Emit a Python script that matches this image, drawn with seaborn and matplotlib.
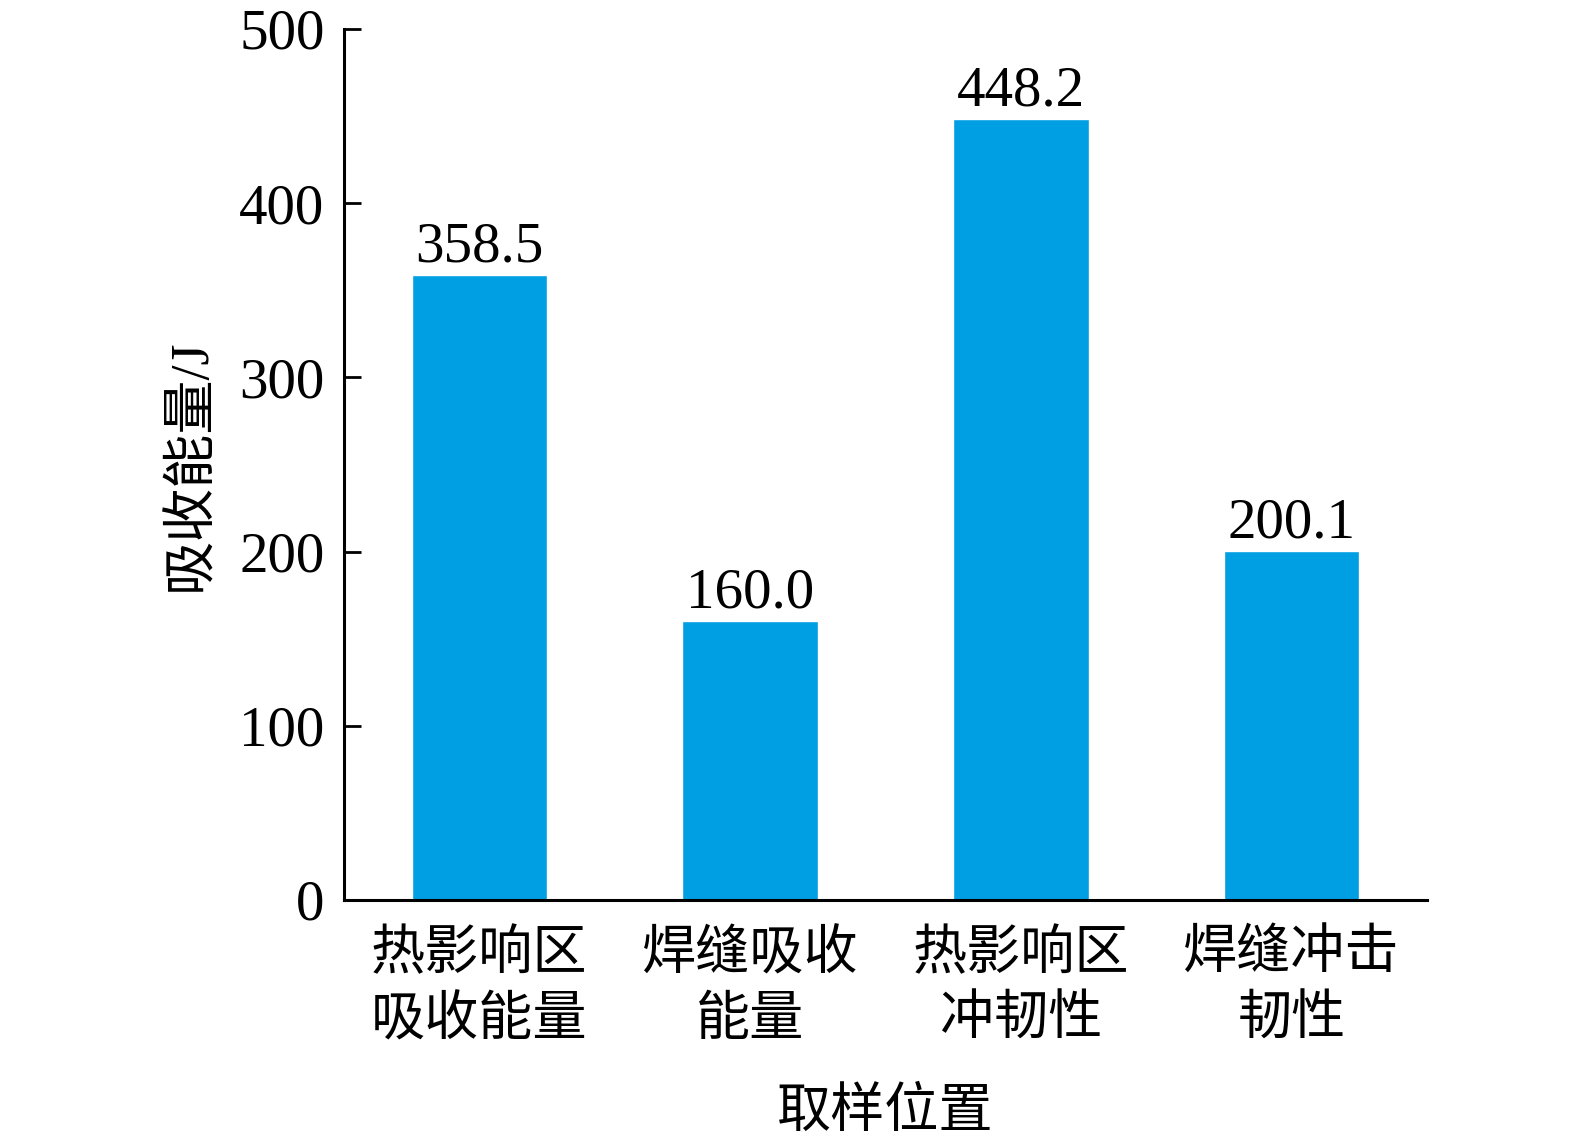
import matplotlib
matplotlib.use('Agg')
import matplotlib.pyplot as plt
import seaborn as sns
import pandas as pd

# 数据
categories = ['热影响区\n吸收能量', '焊缝吸收\n能量', '热影响区\n冲韧性', '焊缝冲击\n韧性']
values = [358.5, 160.0, 448.2, 200.1]
value_labels = ['358.5', '160.0', '448.2', '200.1']
yticks = [0, 100, 200, 300, 400, 500]

df = pd.DataFrame({'pos': categories, 'energy': values})

sns.set_style('white')
plt.rcParams['font.family'] = ['Liberation Serif', 'Noto Sans CJK SC']
plt.rcParams['text.color'] = 'black'
plt.rcParams['axes.labelcolor'] = 'black'
plt.rcParams['xtick.color'] = 'black'
plt.rcParams['ytick.color'] = 'black'

fig = plt.figure(figsize=(15.75, 11.44), dpi=100)
ax = fig.add_axes([0.2184, 0.2133, 0.6876, 0.7614])

sns.barplot(x='pos', y='energy', data=df, color='#009FE3', width=0.5,
            saturation=1, ax=ax)

for p, lab in zip(ax.patches, value_labels):
    ax.text(p.get_x() + p.get_width() / 2, p.get_height() + 1, lab,
            ha='center', va='bottom', fontsize=41, color='black')

ax.set_ylim(0, 500)
ax.set_xlim(-0.5, 3.5)
ax.set_yticks(yticks)
ax.tick_params(axis='y', left=True, direction='in', length=12, width=2,
               labelsize=41, pad=14)
ax.tick_params(axis='x', bottom=False, length=0, labelsize=39, pad=22)
for lbl in ax.get_xticklabels():
    lbl.set_linespacing(1.4)

sns.despine(ax=ax)
for s in ['left', 'bottom']:
    ax.spines[s].set_linewidth(2.2)
    ax.spines[s].set_color('black')

ax.set_xlabel('取样位置', fontsize=39, labelpad=30)
ax.set_ylabel('吸收能量/J', fontsize=39, labelpad=16)

fig.savefig('out.png', dpi=100)
